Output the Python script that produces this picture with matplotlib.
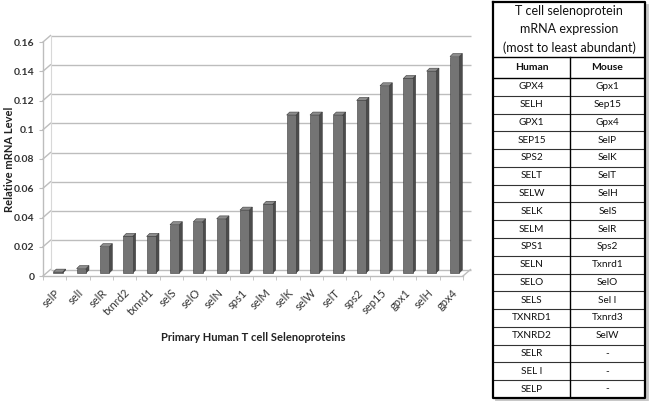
import matplotlib
matplotlib.use("Agg")
import matplotlib.pyplot as plt
import numpy as np

plt.rcParams['font.family'] = ['Lato', 'DejaVu Sans']

# ---------------- data ----------------
categories = ["selP", "selI", "selR", "txnrd2", "txnrd1", "selS", "selO", "selN", "sps1",
              "selM", "selK", "selW", "selT", "sps2", "sep15", "gpx1", "selH", "gpx4"]
values = [0.0006, 0.003, 0.018, 0.025, 0.025, 0.033, 0.035, 0.037, 0.043,
          0.047, 0.108, 0.108, 0.108, 0.118, 0.128, 0.133, 0.138, 0.148]
yticks = [0, 0.02, 0.04, 0.06, 0.08, 0.1, 0.12, 0.14, 0.16]
ytick_labels = ["0", "0.02", "0.04", "0.06", "0.08", "0.1", "0.12", "0.14", "0.16"]

table_title = ["T cell selenoprotein", "mRNA expression", "(most to least abundant)"]
table_header = ["Human", "Mouse"]
human_rank = ["GPX4", "SELH", "GPX1", "SEP15", "SPS2", "SELT", "SELW", "SELK", "SELM",
              "SPS1", "SELN", "SELO", "SELS", "TXNRD1", "TXNRD2", "SELR", "SEL I", "SELP"]
mouse_rank = ["Gpx1", "Sep15", "Gpx4", "SelP", "SelK", "SelT", "SelH", "SelS", "SelR",
              "Sps2", "Txnrd1", "SelO", "Sel I", "Txnrd3", "SelW", "-", "-", "-"]

W, H = 649, 401
fig = plt.figure(figsize=(W / 100, H / 100), dpi=100)

# ---------------- chart ----------------
x0_px, x1_px = 43, 463
y0_px, y1_px = 276, 42
ax = fig.add_axes([x0_px / W, 1 - y0_px / H, (x1_px - x0_px) / W, (y0_px - y1_px) / H])
n = len(categories)
ax.set_xlim(-0.5, n - 0.5)
ax.set_ylim(0, 0.16)
for s in ax.spines.values():
    s.set_visible(False)

px_x = (n) / (x1_px - x0_px)          # data units per pixel (x)
px_y = 0.16 / (y0_px - y1_px)          # data units per pixel (y)
wall_dx, wall_dy = 7.5 * px_x, 6.5 * px_y
grid_c = "#bdbdbd"

# back wall gridlines + left wall slanted lines
for v in yticks:
    ax.plot([-0.5 + wall_dx, n - 0.5 + wall_dx], [v + wall_dy, v + wall_dy],
            color=grid_c, lw=1.0, zorder=1, clip_on=False, solid_capstyle='butt')
    ax.plot([-0.5, -0.5 + wall_dx], [v, v + wall_dy], color=grid_c, lw=1.0,
            zorder=1, clip_on=False)
# left wall edges
ax.plot([-0.5, -0.5], [0, 0.16], color=grid_c, lw=1.0, zorder=1, clip_on=False)
ax.plot([-0.5 + wall_dx, -0.5 + wall_dx], [wall_dy, 0.16 + wall_dy], color="#d8d8d8",
        lw=0.8, zorder=1, clip_on=False)
# floor front edge and right edge
ax.plot([-0.5, n - 0.5], [0, 0], color=grid_c, lw=1.0, zorder=1, clip_on=False)
ax.plot([n - 0.5, n - 0.5 + wall_dx], [0, wall_dy], color=grid_c, lw=1.0, zorder=1,
        clip_on=False)

# 3D-looking bars
bw = 0.40
shift_x, shift_y = 3.3 * px_x, 3.0 * px_y
dx, dy = 3.0 * px_x, 3.0 * px_y
front_c, side_c, top_c, edge_c = "#747474", "#4c4c4c", "#8c8c8c", "#3a3a3a"
xs = np.arange(n)
for xi, v in zip(xs, values):
    cx = xi + shift_x
    base = shift_y
    l, r = cx - bw / 2, cx + bw / 2
    ax.fill([r, r + dx, r + dx, r], [base, base + dy, base + v + dy, base + v],
            color=side_c, ec=edge_c, lw=0.4, zorder=3, clip_on=False)
    ax.fill([l, l + dx, r + dx, r], [base + v, base + v + dy, base + v + dy, base + v],
            color=top_c, ec=edge_c, lw=0.4, zorder=3, clip_on=False)
    ax.bar(cx, v, width=bw, bottom=base, color=front_c, edgecolor=edge_c, lw=0.4,
           zorder=4, clip_on=False)

# ticks
ax.set_yticks(yticks)
ax.set_yticklabels(ytick_labels, fontsize=7.5, fontweight='bold', color="#333333")
ax.tick_params(axis='y', length=3, color=grid_c, pad=3)
ax.set_xticks(xs)
ax.set_xticklabels(categories, rotation=45, ha='right', rotation_mode='anchor',
                   fontsize=8, color="#333333")
ax.tick_params(axis='x', which='major', length=0, pad=8)
ax.set_xticks(np.arange(-0.5, n, 1.0), minor=True)
ax.tick_params(axis='x', which='minor', length=3, color=grid_c)

ax.set_ylabel("Relative mRNA Level", fontsize=8, fontweight='bold', color="#222222")
ax.set_xlabel("Primary Human T cell Selenoproteins", fontsize=8, fontweight='bold',
              color="#222222", labelpad=10)
ax.yaxis.set_label_coords((15 - x0_px) / (x1_px - x0_px), 0.5)
ax.set_facecolor('none')

# ---------------- table ----------------
tx0, tx1, ty0, ty1 = 493, 645, 2, 398
tax = fig.add_axes([tx0 / W, 1 - ty1 / H, (tx1 - tx0) / W, (ty1 - ty0) / H])
tax.set_xlim(tx0, tx1)
tax.set_ylim(ty1, ty0)
tax.axis('off')

title_bottom = 57
header_bottom = 78
n_rows = len(human_rank)
row_h = (ty1 - header_bottom) / n_rows
col_x = 570

# shadow
tax.plot([tx0 + 3, tx1 + 2, tx1 + 2], [ty1 + 2, ty1 + 2, ty0 + 3], color="#c8c8c8",
         lw=2, clip_on=False, zorder=1)
# outer box
tax.plot([tx0, tx1, tx1, tx0, tx0], [ty0, ty0, ty1, ty1, ty0], color="black", lw=1.6,
         clip_on=False, zorder=3)
# horizontal lines
tax.plot([tx0, tx1], [title_bottom, title_bottom], color="black", lw=1.0, zorder=2)
tax.plot([tx0, tx1], [header_bottom, header_bottom], color="black", lw=1.0, zorder=2)
for i in range(1, n_rows):
    yy = header_bottom + i * row_h
    tax.plot([tx0, tx1], [yy, yy], color="#333333", lw=0.8, zorder=2)
tax.plot([col_x, col_x], [title_bottom, ty1], color="black", lw=1.0, zorder=2)

cx_title = (tx0 + tx1) / 2
for i, line in enumerate(table_title):
    tax.text(cx_title, 11 + i * 18.5, line, ha='center', va='center', fontsize=9,
             color="#111111")
c1 = (tx0 + col_x) / 2
c2 = (col_x + tx1) / 2
tax.text(c1, (title_bottom + header_bottom) / 2, table_header[0], ha='center',
         va='center', fontsize=7.5, fontweight='bold', color="#111111")
tax.text(c2, (title_bottom + header_bottom) / 2, table_header[1], ha='center',
         va='center', fontsize=7.5, fontweight='bold', color="#111111")
for i, (h, m) in enumerate(zip(human_rank, mouse_rank)):
    yy = header_bottom + (i + 0.5) * row_h
    tax.text(c1, yy, h, ha='center', va='center', fontsize=7.2, color="#111111")
    tax.text(c2, yy, m, ha='center', va='center', fontsize=7.2, color="#111111")

fig.savefig("out.png", dpi=100)
